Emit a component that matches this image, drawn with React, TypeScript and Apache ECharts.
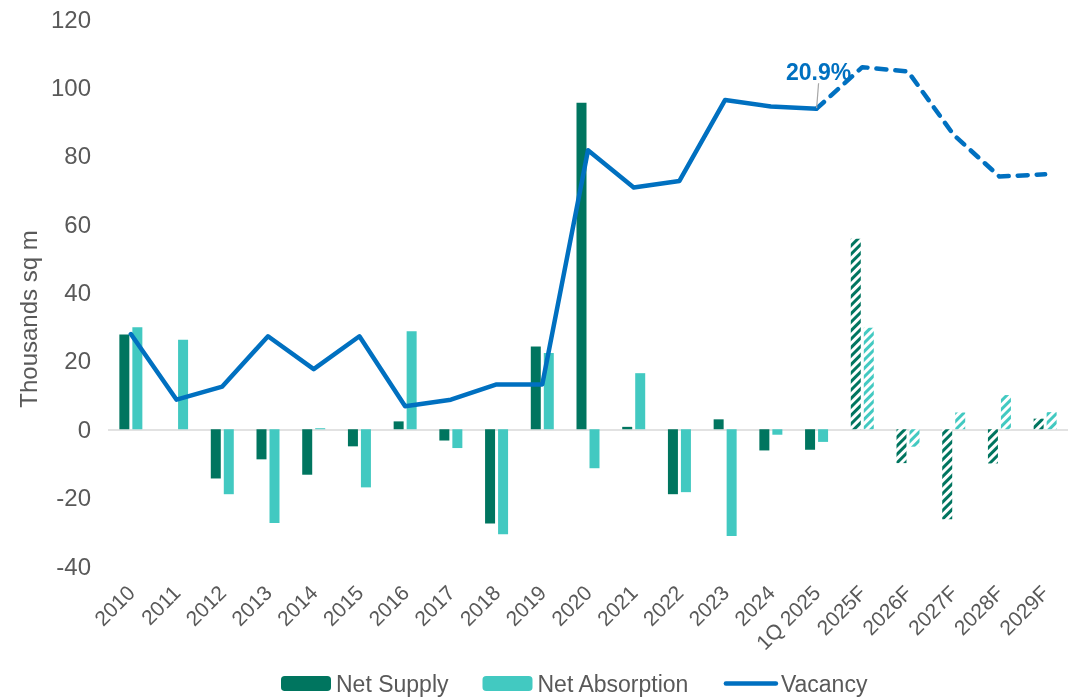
import React, { useEffect, useRef } from "react";
import * as echarts from "echarts";

const categories = [
  "2010", "2011", "2012", "2013", "2014", "2015", "2016", "2017", "2018", "2019",
  "2020", "2021", "2022", "2023", "2024", "1Q 2025", "2025F", "2026F", "2027F", "2028F", "2029F",
];
const isForecast = [
  false, false, false, false, false, false, false, false, false, false,
  false, false, false, false, false, false, true, true, true, true, true,
];
const netSupply = [
  27.7, 0, -14.4, -8.8, -13.3, -5.0, 2.3, -3.3, -27.6, 24.2,
  95.5, 0.7, -19.0, 2.9, -6.2, -6.0, 55.7, -9.9, -26.3, -10.0, 3.1,
];
const netAbsorption = [
  29.8, 26.2, -19.0, -27.4, 0.3, -17.0, 28.7, -5.5, -30.7, 22.3,
  -11.4, 16.4, -18.4, -31.2, -1.6, -3.7, 29.7, -5.1, 4.9, 10.0, 5.0,
];
// Vacancy rate (%), plotted on a hidden secondary axis 0–25%
const vacancy = [
  10.6, 7.6, 8.2, 10.5, 9.0, 10.5, 7.3, 7.6, 8.3, 8.3,
  19.0, 17.3, 17.6, 21.3, 21.0, 20.9, 22.8, 22.6, 19.7, 17.8, 17.9,
];
const yTicks = { min: -40, max: 120, interval: 20 };
const labelIndex = 15;

const SUPPLY = "#00755F";
const ABSORB = "#42C9C1";
const VAC = "#0070C0";
const TXT = "#595959";
const FONT = "'Liberation Sans', Arial, sans-serif";

function hatched(value: number, forecast: boolean, color: string) {
  if (!forecast) return value;
  return {
    value,
    itemStyle: {
      color: "#FFFFFF",
      decal: {
        symbol: "rect",
        symbolSize: 1,
        color,
        dashArrayX: [1, 0],
        dashArrayY: [3, 3],
        rotation: -Math.PI / 4,
      },
    },
  };
}

export default function App() {
  const ref = useRef<HTMLDivElement>(null);
  useEffect(() => {
    if (!ref.current) return;
    const chart = echarts.init(ref.current, null, { renderer: "svg" });
    const solid = vacancy.map((v, i) => (i <= labelIndex ? v : "-"));
    const dashed = vacancy.map((v, i) => (i >= labelIndex ? v : "-"));
    const labelData = vacancy.map((v, i) => (i === labelIndex ? v : "-"));
    chart.setOption({
      animation: false,
      textStyle: { fontFamily: FONT },
      grid: { left: 108, right: 8, top: 19, bottom: 133, containLabel: false },
      legend: {
        data: [
          "Net Supply",
          "Net Absorption",
          {
            name: "Vacancy",
            itemStyle: { opacity: 0 },
            lineStyle: { width: 4.5, color: VAC, cap: "round", type: "solid" },
          },
        ],
        left: 276,
        top: 667,
        itemWidth: 50,
        itemHeight: 15,
        itemGap: 34,
        textStyle: { fontSize: 23, color: TXT, fontFamily: FONT },
      },
      xAxis: {
        type: "category",
        data: categories,
        axisLine: { show: false, onZero: false },
        axisTick: { show: false },
        axisLabel: {
          interval: 0,
          rotate: 45,
          fontSize: 21,
          color: TXT,
          margin: 23,
          fontFamily: FONT,
        },
      },
      yAxis: [
        {
          type: "value",
          min: yTicks.min,
          max: yTicks.max,
          interval: yTicks.interval,
          splitLine: { show: false },
          axisLine: { show: false },
          axisTick: { show: false },
          axisLabel: { fontSize: 24, color: TXT, margin: 17, fontFamily: FONT },
        },
        {
          type: "value",
          min: 0,
          max: 25,
          show: false,
          splitLine: { show: false },
        },
      ],
      graphic: [
        {
          type: "text",
          x: 28,
          y: 319,
          rotation: Math.PI / 2,
          style: {
            text: "Thousands sq m",
            fontSize: 24,
            fill: TXT,
            fontFamily: FONT,
            align: "center",
            verticalAlign: "middle",
          },
        },
      ],
      series: [
        {
          name: "Net Supply",
          type: "bar",
          barWidth: 10,
          barGap: "30%",
          itemStyle: { color: SUPPLY },
          data: netSupply.map((v, i) => hatched(v, isForecast[i], SUPPLY)),
          markLine: {
            silent: true,
            symbol: ["none", "none"],
            label: { show: false },
            lineStyle: { color: "#D9D9D9", width: 1.5, type: "solid" },
            data: [{ yAxis: 0 }],
            z: 1,
          },
        },
        {
          name: "Net Absorption",
          type: "bar",
          barWidth: 10,
          barGap: "30%",
          itemStyle: { color: ABSORB },
          data: netAbsorption.map((v, i) => hatched(v, isForecast[i], ABSORB)),
        },
        {
          name: "Vacancy",
          type: "line",
          yAxisIndex: 1,
          showSymbol: false,
          symbol: "none",
          lineStyle: { color: VAC, width: 4.5, cap: "round", join: "round" },
          itemStyle: { color: VAC },
          data: solid,
          z: 5,
        },
        {
          name: "Vacancy",
          type: "line",
          yAxisIndex: 1,
          showSymbol: false,
          symbol: "none",
          lineStyle: { color: VAC, width: 4.5, type: [10, 9], cap: "round", join: "round" },
          itemStyle: { color: VAC },
          data: dashed,
          z: 5,
        },
        {
          name: "Vacancy label",
          type: "line",
          yAxisIndex: 1,
          showSymbol: true,
          symbol: "circle",
          symbolSize: 1,
          lineStyle: { width: 0 },
          itemStyle: { color: VAC },
          label: {
            show: true,
            position: "top",
            formatter: (p: any) => Number(p.value).toFixed(1) + "%",
            color: VAC,
            fontWeight: "bold",
            fontSize: 23,
            fontFamily: FONT,
          },
          labelLine: { show: true, lineStyle: { color: "#A6A6A6", width: 1.2 } },
          labelLayout: { dy: -20, dx: 2 },
          data: labelData,
          z: 6,
        },
      ],
    });
    return () => chart.dispose();
  }, []);
  return (
    <div
      ref={ref}
      style={{ position: "fixed", left: 0, top: 0, width: 1076, height: 699 }}
    />
  );
}
